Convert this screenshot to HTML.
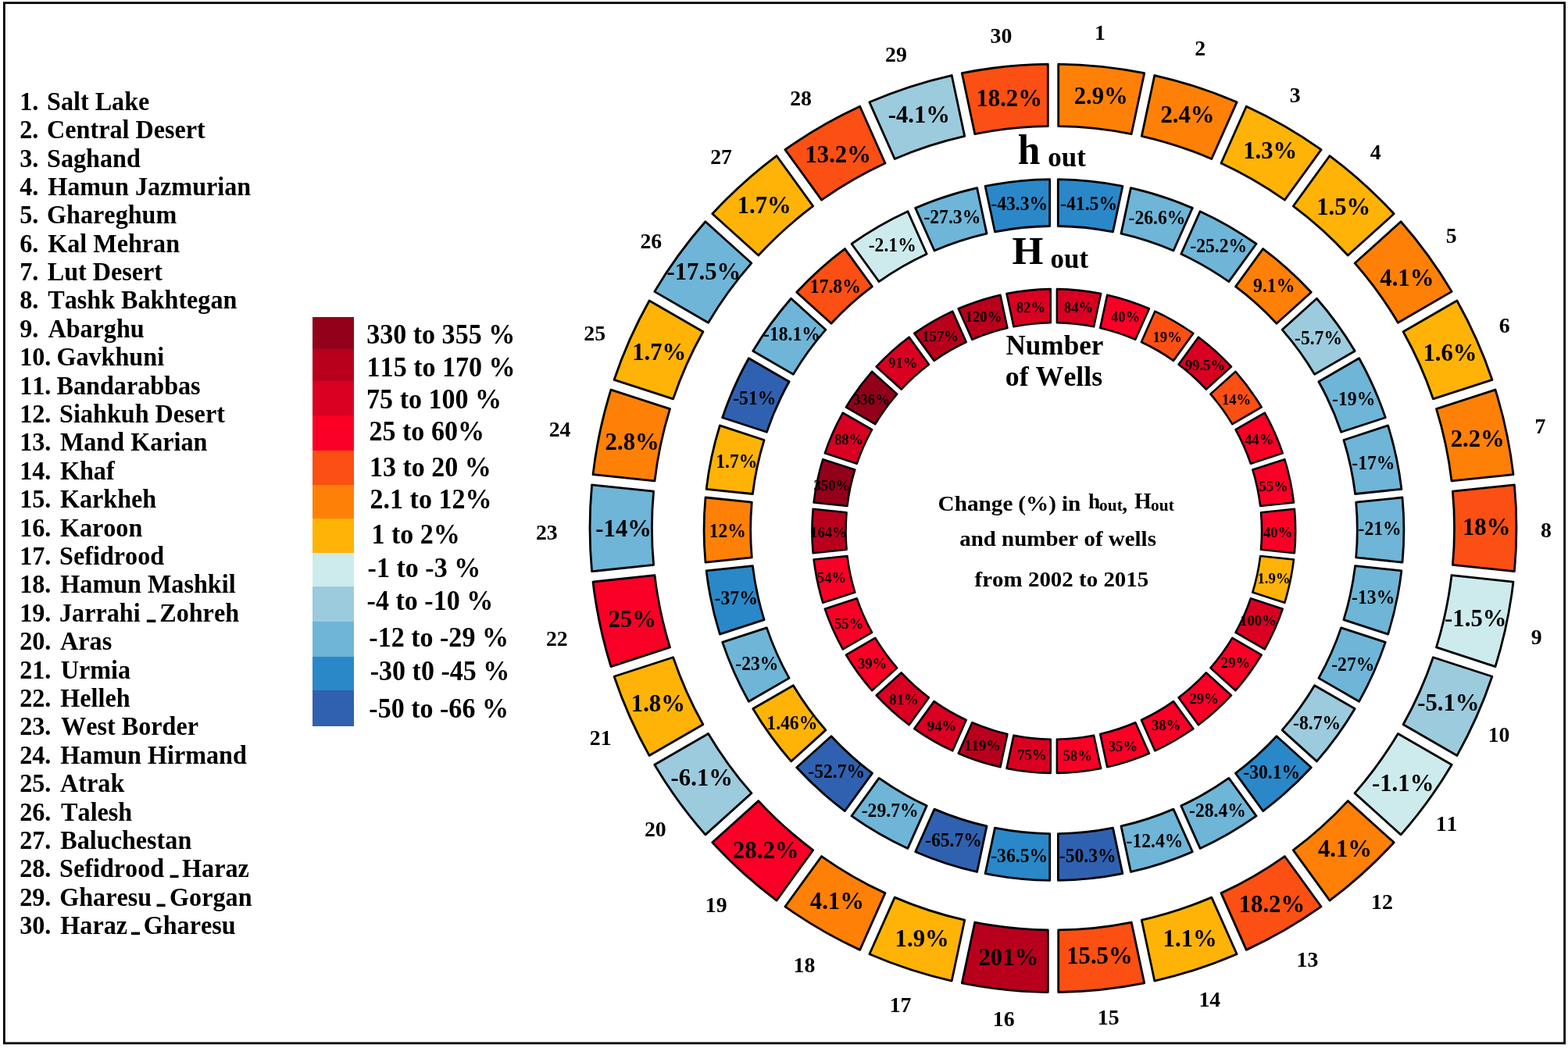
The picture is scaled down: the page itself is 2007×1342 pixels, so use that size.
<!DOCTYPE html>
<html lang="en"><head><meta charset="utf-8"><title>Change (%) in h out, H out and number of wells from 2002 to 2015</title>
<style>html,body{margin:0;padding:0;background:#fff}body{width:2007px;height:1342px;overflow:hidden}svg{display:block}text{font-family:'Liberation Serif','DejaVu Serif',serif;font-weight:bold;fill:#000;font-kerning:none;white-space:pre}</style></head><body>
<svg xmlns="http://www.w3.org/2000/svg" width="2007" height="1342" viewBox="0 0 2007 1342">
<rect width="2007" height="1342" fill="#fff"/>
<rect x="5.4" y="3.7" width="1997.2" height="1332.2" fill="none" stroke="#000" stroke-width="2.8"/>
<g font-size="33.8">
<text transform="translate(25.2 140.7) scale(0.952 1)">1.</text>
<text transform="translate(60.0 140.7) scale(0.952 1)">Salt Lake</text>
<text transform="translate(25.2 177.1) scale(0.952 1)">2.</text>
<text transform="translate(60.1 177.1) scale(0.952 1)">Central Desert</text>
<text transform="translate(25.2 213.5) scale(0.952 1)">3.</text>
<text transform="translate(60.0 213.5) scale(0.952 1)">Saghand</text>
<text transform="translate(25.2 249.9) scale(0.952 1)">4.</text>
<text transform="translate(61.2 249.9) scale(0.952 1)">Hamun Jazmurian</text>
<text transform="translate(25.2 286.3) scale(0.952 1)">5.</text>
<text transform="translate(60.1 286.3) scale(0.952 1)">Ghareghum</text>
<text transform="translate(25.2 322.6) scale(0.952 1)">6.</text>
<text transform="translate(61.2 322.6) scale(0.952 1)">Kal Mehran</text>
<text transform="translate(25.2 359.0) scale(0.952 1)">7.</text>
<text transform="translate(60.7 359.0) scale(0.952 1)">Lut Desert</text>
<text transform="translate(25.2 395.4) scale(0.952 1)">8.</text>
<text transform="translate(61.2 395.4) scale(0.952 1)">Tashk Bakhtegan</text>
<text transform="translate(25.2 431.8) scale(0.952 1)">9.</text>
<text transform="translate(61.4 431.8) scale(0.952 1)">Abarghu</text>
<text transform="translate(25.2 468.2) scale(0.952 1)">10.</text>
<text transform="translate(72.4 468.2) scale(0.952 1)">Gavkhuni</text>
<text transform="translate(25.2 504.6) scale(0.952 1)">11.</text>
<text transform="translate(72.5 504.6) scale(0.952 1)">Bandarabbas</text>
<text transform="translate(25.2 541.0) scale(0.952 1)">12.</text>
<text transform="translate(76.1 541.0) scale(0.952 1)">Siahkuh Desert</text>
<text transform="translate(25.2 577.4) scale(0.952 1)">13.</text>
<text transform="translate(76.9 577.4) scale(0.952 1)">Mand Karian</text>
<text transform="translate(25.2 613.8) scale(0.952 1)">14.</text>
<text transform="translate(76.9 613.8) scale(0.952 1)">Khaf</text>
<text transform="translate(25.2 650.2) scale(0.952 1)">15.</text>
<text transform="translate(76.9 650.2) scale(0.952 1)">Karkheh</text>
<text transform="translate(25.2 686.5) scale(0.952 1)">16.</text>
<text transform="translate(76.9 686.5) scale(0.952 1)">Karoon</text>
<text transform="translate(25.2 722.9) scale(0.952 1)">17.</text>
<text transform="translate(76.1 722.9) scale(0.952 1)">Sefidrood</text>
<text transform="translate(25.2 759.3) scale(0.952 1)">18.</text>
<text transform="translate(77.3 759.3) scale(0.952 1)">Hamun Mashkil</text>
<text transform="translate(25.2 795.7) scale(0.952 1)">19.</text>
<text transform="translate(76.0 795.7) scale(0.952 1)">Jarrahi</text>
<text transform="translate(188.1 789.6) scale(0.660 1.431)">_</text>
<text transform="translate(204.2 795.7) scale(0.952 1)">Zohreh</text>
<text transform="translate(25.2 832.1) scale(0.952 1)">20.</text>
<text transform="translate(77.1 832.1) scale(0.952 1)">Aras</text>
<text transform="translate(25.2 868.5) scale(0.952 1)">21.</text>
<text transform="translate(77.8 868.5) scale(0.952 1)">Urmia</text>
<text transform="translate(25.2 904.9) scale(0.952 1)">22.</text>
<text transform="translate(77.3 904.9) scale(0.952 1)">Helleh</text>
<text transform="translate(25.2 941.3) scale(0.952 1)">23.</text>
<text transform="translate(78.1 941.3) scale(0.952 1)">West Border</text>
<text transform="translate(25.2 977.7) scale(0.952 1)">24.</text>
<text transform="translate(77.3 977.7) scale(0.952 1)">Hamun Hirmand</text>
<text transform="translate(25.2 1014.1) scale(0.952 1)">25.</text>
<text transform="translate(77.1 1014.1) scale(0.952 1)">Atrak</text>
<text transform="translate(25.2 1050.5) scale(0.952 1)">26.</text>
<text transform="translate(78.1 1050.5) scale(0.952 1)">Talesh</text>
<text transform="translate(25.2 1086.8) scale(0.952 1)">27.</text>
<text transform="translate(77.3 1086.8) scale(0.952 1)">Baluchestan</text>
<text transform="translate(25.2 1123.2) scale(0.952 1)">28.</text>
<text transform="translate(76.1 1123.2) scale(0.952 1)">Sefidrood</text>
<text transform="translate(217.7 1117.1) scale(0.631 1.431)">_</text>
<text transform="translate(233.1 1123.2) scale(0.952 1)">Haraz</text>
<text transform="translate(25.2 1159.6) scale(0.952 1)">29.</text>
<text transform="translate(76.2 1159.6) scale(0.952 1)">Gharesu</text>
<text transform="translate(200.8 1153.5) scale(0.631 1.431)">_</text>
<text transform="translate(217.1 1159.6) scale(0.952 1)">Gorgan</text>
<text transform="translate(25.2 1196.0) scale(0.952 1)">30.</text>
<text transform="translate(77.3 1196.0) scale(0.952 1)">Haraz</text>
<text transform="translate(168.1 1189.9) scale(0.643 1.431)">_</text>
<text transform="translate(183.7 1196.0) scale(0.952 1)">Gharesu</text>
</g>
<g shape-rendering="crispEdges">
<rect x="399.8" y="405.6" width="53.2" height="42.2" fill="#92001a"/>
<rect x="399.8" y="447.4" width="53.2" height="40.6" fill="#b8001d"/>
<rect x="399.8" y="487.6" width="53.2" height="44.7" fill="#d90022"/>
<rect x="399.8" y="531.9" width="53.2" height="45.2" fill="#fa0026"/>
<rect x="399.8" y="576.7" width="53.2" height="44.2" fill="#fc4f13"/>
<rect x="399.8" y="620.5" width="53.2" height="44.0" fill="#ff8006"/>
<rect x="399.8" y="664.1" width="53.2" height="44.3" fill="#ffb306"/>
<rect x="399.8" y="708.0" width="53.2" height="43.8" fill="#cdebec"/>
<rect x="399.8" y="751.4" width="53.2" height="45.0" fill="#9ccbde"/>
<rect x="399.8" y="796.0" width="53.2" height="44.9" fill="#6eb5d7"/>
<rect x="399.8" y="840.5" width="53.2" height="43.6" fill="#2a88c8"/>
<rect x="399.8" y="883.7" width="53.2" height="46.5" fill="#3061b0"/>
</g>
<g font-size="35.1">
<text transform="translate(469.2 440.3) scale(0.970 1)">330 to 355 %</text>
<text transform="translate(469.6 481.6) scale(0.970 1)">115 to 170 %</text>
<text transform="translate(469.1 522.6) scale(0.970 1)">75 to 100 %</text>
<text transform="translate(472.5 564.2) scale(0.970 1)">25 to 60%</text>
<text transform="translate(472.9 610.1) scale(0.970 1)">13 to 20 %</text>
<text transform="translate(473.5 650.8) scale(0.970 1)">2.1 to 12%</text>
<text transform="translate(475.4 695.9) scale(0.970 1)">1 to 2%</text>
<text transform="translate(470.6 739.3) scale(0.970 1)">-1 to -3 %</text>
<text transform="translate(469.6 781.4) scale(0.970 1)">-4 to -10 %</text>
<text transform="translate(472.3 828.0) scale(0.970 1)">-12 to -29 %</text>
<text transform="translate(473.7 870.7) scale(0.970 1)">-30 t0 -45 %</text>
<text transform="translate(472.3 919.1) scale(0.970 1)">-50 to -66 %</text>
</g>
<g stroke="#000" stroke-width="2.8" stroke-linejoin="round" transform="translate(0 -1.353) scale(1 1.0020)">
<path d="M1354.7 83.3A593.0 593.0 0 0 1 1464.7 94.9L1448.2 172.6A513.6 513.6 0 0 0 1354.7 162.7Z" fill="#ff8006"/>
<path d="M1477.8 97.7A593.0 593.0 0 0 1 1583.1 131.9L1550.8 204.4A513.6 513.6 0 0 0 1461.3 175.4Z" fill="#ff8006"/>
<path d="M1595.3 137.3A593.0 593.0 0 0 1 1691.1 192.6L1644.4 256.9A513.6 513.6 0 0 0 1563.0 209.9Z" fill="#ffb306"/>
<path d="M1702.0 200.5A593.0 593.0 0 0 1 1784.2 274.6L1725.2 327.7A513.6 513.6 0 0 0 1655.3 264.8Z" fill="#ffb306"/>
<path d="M1793.1 284.5A593.0 593.0 0 0 1 1858.2 374.0L1789.4 413.7A513.6 513.6 0 0 0 1734.1 337.6Z" fill="#ff8006"/>
<path d="M1864.9 385.6A593.0 593.0 0 0 1 1909.9 486.7L1834.4 511.2A513.6 513.6 0 0 0 1796.1 425.3Z" fill="#ffb306"/>
<path d="M1914.0 499.4A593.0 593.0 0 0 1 1937.0 607.7L1858.0 616.0A513.6 513.6 0 0 0 1838.5 524.0Z" fill="#ff8006"/>
<path d="M1938.4 621.0A593.0 593.0 0 0 1 1938.4 731.6L1859.4 723.3A513.6 513.6 0 0 0 1859.4 629.3Z" fill="#fc4f13"/>
<path d="M1937.0 744.9A593.0 593.0 0 0 1 1914.0 853.2L1838.5 828.6A513.6 513.6 0 0 0 1858.0 736.6Z" fill="#cdebec"/>
<path d="M1909.9 865.9A593.0 593.0 0 0 1 1864.9 967.0L1796.1 927.3A513.6 513.6 0 0 0 1834.4 841.4Z" fill="#9ccbde"/>
<path d="M1858.2 978.6A593.0 593.0 0 0 1 1793.1 1068.1L1734.1 1015.0A513.6 513.6 0 0 0 1789.4 938.9Z" fill="#cdebec"/>
<path d="M1784.2 1078.0A593.0 593.0 0 0 1 1702.0 1152.1L1655.3 1087.8A513.6 513.6 0 0 0 1725.2 1024.9Z" fill="#ff8006"/>
<path d="M1691.1 1160.0A593.0 593.0 0 0 1 1595.3 1215.3L1563.0 1142.7A513.6 513.6 0 0 0 1644.4 1095.7Z" fill="#fc4f13"/>
<path d="M1583.1 1220.7A593.0 593.0 0 0 1 1477.8 1254.9L1461.3 1177.2A513.6 513.6 0 0 0 1550.8 1148.2Z" fill="#ffb306"/>
<path d="M1464.7 1257.7A593.0 593.0 0 0 1 1354.7 1269.3L1354.7 1189.9A513.6 513.6 0 0 0 1448.2 1180.0Z" fill="#fc4f13"/>
<path d="M1341.3 1269.3A593.0 593.0 0 0 1 1231.3 1257.7L1247.8 1180.0A513.6 513.6 0 0 0 1341.3 1189.9Z" fill="#b8001d"/>
<path d="M1218.2 1254.9A593.0 593.0 0 0 1 1112.9 1220.7L1145.2 1148.2A513.6 513.6 0 0 0 1234.7 1177.2Z" fill="#ffb306"/>
<path d="M1100.7 1215.3A593.0 593.0 0 0 1 1004.9 1160.0L1051.6 1095.7A513.6 513.6 0 0 0 1133.0 1142.7Z" fill="#ff8006"/>
<path d="M994.0 1152.1A593.0 593.0 0 0 1 911.8 1078.0L970.8 1024.9A513.6 513.6 0 0 0 1040.7 1087.8Z" fill="#fa0026"/>
<path d="M902.9 1068.1A593.0 593.0 0 0 1 837.8 978.6L906.6 938.9A513.6 513.6 0 0 0 961.9 1015.0Z" fill="#9ccbde"/>
<path d="M831.1 967.0A593.0 593.0 0 0 1 786.1 865.9L861.6 841.4A513.6 513.6 0 0 0 899.9 927.3Z" fill="#ffb306"/>
<path d="M782.0 853.2A593.0 593.0 0 0 1 759.0 744.9L838.0 736.6A513.6 513.6 0 0 0 857.5 828.6Z" fill="#fa0026"/>
<path d="M757.6 731.6A593.0 593.0 0 0 1 757.6 621.0L836.6 629.3A513.6 513.6 0 0 0 836.6 723.3Z" fill="#6eb5d7"/>
<path d="M759.0 607.7A593.0 593.0 0 0 1 782.0 499.4L857.5 524.0A513.6 513.6 0 0 0 838.0 616.0Z" fill="#ff8006"/>
<path d="M786.1 486.7A593.0 593.0 0 0 1 831.1 385.6L899.9 425.3A513.6 513.6 0 0 0 861.6 511.2Z" fill="#ffb306"/>
<path d="M837.8 374.0A593.0 593.0 0 0 1 902.9 284.5L961.9 337.6A513.6 513.6 0 0 0 906.6 413.7Z" fill="#6eb5d7"/>
<path d="M911.8 274.6A593.0 593.0 0 0 1 994.0 200.5L1040.7 264.8A513.6 513.6 0 0 0 970.8 327.7Z" fill="#ffb306"/>
<path d="M1004.9 192.6A593.0 593.0 0 0 1 1100.7 137.3L1133.0 209.9A513.6 513.6 0 0 0 1051.6 256.9Z" fill="#fc4f13"/>
<path d="M1112.9 131.9A593.0 593.0 0 0 1 1218.2 97.7L1234.7 175.4A513.6 513.6 0 0 0 1145.2 204.4Z" fill="#9ccbde"/>
<path d="M1231.3 94.9A593.0 593.0 0 0 1 1341.3 83.3L1341.3 162.7A513.6 513.6 0 0 0 1247.8 172.6Z" fill="#fc4f13"/>
</g>
<g font-size="32.2">
<text transform="translate(1374.7 132.6) scale(0.955 1)">2.9%</text>
<text transform="translate(1485.4 156.9) scale(0.955 1)">2.4%</text>
<text transform="translate(1591.2 203.3) scale(0.955 1)">1.3%</text>
<text transform="translate(1685.2 274.6) scale(0.955 1)">1.5%</text>
<text transform="translate(1766.3 365.8) scale(0.955 1)">4.1%</text>
<text transform="translate(1821.4 461.9) scale(0.955 1)">1.6%</text>
<text transform="translate(1856.7 572.3) scale(0.955 1)">2.2%</text>
<text transform="translate(1871.9 684.7) scale(0.955 1)">18%</text>
<text transform="translate(1849.1 801.8) scale(0.955 1)">-1.5%</text>
<text transform="translate(1814.2 909.9) scale(0.955 1)">-5.1%</text>
<text transform="translate(1756.0 1012.5) scale(0.955 1)">-1.1%</text>
<text transform="translate(1686.9 1097.2) scale(0.955 1)">4.1%</text>
<text transform="translate(1585.7 1167.6) scale(0.955 1)">18.2%</text>
<text transform="translate(1488.6 1212.3) scale(0.955 1)">1.1%</text>
<text transform="translate(1365.2 1234.1) scale(0.955 1)">15.5%</text>
<text transform="translate(1252.4 1235.6) scale(0.955 1)">201%</text>
<text transform="translate(1145.6 1211.8) scale(0.955 1)">1.9%</text>
<text transform="translate(1036.8 1164.1) scale(0.955 1)">4.1%</text>
<text transform="translate(938.0 1099.1) scale(0.955 1)">28.2%</text>
<text transform="translate(858.6 1006.2) scale(0.955 1)">-6.1%</text>
<text transform="translate(807.8 910.6) scale(0.955 1)">1.8%</text>
<text transform="translate(778.4 802.6) scale(0.955 1)">25%</text>
<text transform="translate(762.3 686.6) scale(0.955 1)">-14%</text>
<text transform="translate(774.6 575.6) scale(0.955 1)">2.8%</text>
<text transform="translate(809.2 460.5) scale(0.955 1)">1.7%</text>
<text transform="translate(853.5 358.1) scale(0.955 1)">-17.5%</text>
<text transform="translate(943.7 272.6) scale(0.955 1)">1.7%</text>
<text transform="translate(1030.4 207.5) scale(0.955 1)">13.2%</text>
<text transform="translate(1136.7 156.7) scale(0.955 1)">-4.1%</text>
<text transform="translate(1249.4 135.9) scale(0.955 1)">18.2%</text>
</g>
<g stroke="#000" stroke-width="2.8" stroke-linejoin="round" transform="translate(0 -1.357) scale(1 1.0020)">
<path d="M1354.3 230.6A447.9 447.9 0 0 1 1436.9 239.3L1424.5 297.7A388.3 388.3 0 0 0 1354.3 290.3Z" fill="#2a88c8"/>
<path d="M1447.4 241.5A447.9 447.9 0 0 1 1526.3 267.2L1502.0 321.7A388.3 388.3 0 0 0 1435.0 299.9Z" fill="#6eb5d7"/>
<path d="M1536.1 271.5A447.9 447.9 0 0 1 1608.0 313.0L1572.9 361.3A388.3 388.3 0 0 0 1511.8 326.0Z" fill="#6eb5d7"/>
<path d="M1616.6 319.3A447.9 447.9 0 0 1 1678.3 374.9L1634.0 414.8A388.3 388.3 0 0 0 1581.5 367.6Z" fill="#ff8006"/>
<path d="M1685.4 382.8A447.9 447.9 0 0 1 1734.2 450.0L1682.6 479.8A388.3 388.3 0 0 0 1641.1 422.7Z" fill="#9ccbde"/>
<path d="M1739.6 459.2A447.9 447.9 0 0 1 1773.3 535.0L1716.6 553.5A388.3 388.3 0 0 0 1687.9 489.1Z" fill="#6eb5d7"/>
<path d="M1776.6 545.2A447.9 447.9 0 0 1 1793.9 626.4L1734.6 632.6A388.3 388.3 0 0 0 1719.9 563.7Z" fill="#6eb5d7"/>
<path d="M1795.0 637.1A447.9 447.9 0 0 1 1795.0 720.0L1735.7 713.8A388.3 388.3 0 0 0 1735.7 643.3Z" fill="#6eb5d7"/>
<path d="M1793.9 730.7A447.9 447.9 0 0 1 1776.6 811.9L1719.9 793.4A388.3 388.3 0 0 0 1734.6 724.5Z" fill="#6eb5d7"/>
<path d="M1773.3 822.1A447.9 447.9 0 0 1 1739.6 897.9L1687.9 868.0A388.3 388.3 0 0 0 1716.6 803.6Z" fill="#6eb5d7"/>
<path d="M1734.2 907.1A447.9 447.9 0 0 1 1685.4 974.3L1641.1 934.4A388.3 388.3 0 0 0 1682.6 877.3Z" fill="#9ccbde"/>
<path d="M1678.3 982.2A447.9 447.9 0 0 1 1616.6 1037.8L1581.5 989.5A388.3 388.3 0 0 0 1634.0 942.3Z" fill="#2a88c8"/>
<path d="M1608.0 1044.1A447.9 447.9 0 0 1 1536.1 1085.6L1511.8 1031.1A388.3 388.3 0 0 0 1572.9 995.8Z" fill="#6eb5d7"/>
<path d="M1526.3 1089.9A447.9 447.9 0 0 1 1447.4 1115.6L1435.0 1057.2A388.3 388.3 0 0 0 1502.0 1035.4Z" fill="#6eb5d7"/>
<path d="M1436.9 1117.8A447.9 447.9 0 0 1 1354.4 1126.5L1354.4 1066.8A388.3 388.3 0 0 0 1424.5 1059.4Z" fill="#3061b0"/>
<path d="M1343.7 1126.5A447.9 447.9 0 0 1 1261.1 1117.8L1273.5 1059.4A388.3 388.3 0 0 0 1343.7 1066.8Z" fill="#2a88c8"/>
<path d="M1250.6 1115.6A447.9 447.9 0 0 1 1171.7 1089.9L1196.0 1035.4A388.3 388.3 0 0 0 1263.0 1057.2Z" fill="#3061b0"/>
<path d="M1161.9 1085.6A447.9 447.9 0 0 1 1090.0 1044.1L1125.1 995.8A388.3 388.3 0 0 0 1186.2 1031.1Z" fill="#6eb5d7"/>
<path d="M1081.4 1037.8A447.9 447.9 0 0 1 1019.7 982.2L1064.0 942.3A388.3 388.3 0 0 0 1116.5 989.5Z" fill="#3061b0"/>
<path d="M1012.6 974.3A447.9 447.9 0 0 1 963.8 907.1L1015.4 877.3A388.3 388.3 0 0 0 1056.9 934.4Z" fill="#ffb306"/>
<path d="M958.4 897.9A447.9 447.9 0 0 1 924.7 822.1L981.4 803.6A388.3 388.3 0 0 0 1010.1 868.0Z" fill="#6eb5d7"/>
<path d="M921.4 811.9A447.9 447.9 0 0 1 904.1 730.7L963.4 724.5A388.3 388.3 0 0 0 978.1 793.4Z" fill="#2a88c8"/>
<path d="M903.0 720.0A447.9 447.9 0 0 1 903.0 637.1L962.3 643.3A388.3 388.3 0 0 0 962.3 713.8Z" fill="#ff8006"/>
<path d="M904.1 626.4A447.9 447.9 0 0 1 921.4 545.2L978.1 563.7A388.3 388.3 0 0 0 963.4 632.6Z" fill="#ffb306"/>
<path d="M924.7 535.0A447.9 447.9 0 0 1 958.4 459.2L1010.1 489.1A388.3 388.3 0 0 0 981.4 553.5Z" fill="#3061b0"/>
<path d="M963.8 450.0A447.9 447.9 0 0 1 1012.6 382.8L1056.9 422.7A388.3 388.3 0 0 0 1015.4 479.8Z" fill="#6eb5d7"/>
<path d="M1019.7 374.9A447.9 447.9 0 0 1 1081.4 319.3L1116.5 367.6A388.3 388.3 0 0 0 1064.0 414.8Z" fill="#fc4f13"/>
<path d="M1090.0 313.0A447.9 447.9 0 0 1 1161.9 271.5L1186.2 326.0A388.3 388.3 0 0 0 1125.1 361.3Z" fill="#cdebec"/>
<path d="M1171.7 267.2A447.9 447.9 0 0 1 1250.6 241.5L1263.0 299.9A388.3 388.3 0 0 0 1196.0 321.7Z" fill="#6eb5d7"/>
<path d="M1261.1 239.3A447.9 447.9 0 0 1 1343.7 230.6L1343.6 290.3A388.3 388.3 0 0 0 1273.5 297.7Z" fill="#2a88c8"/>
</g>
<g font-size="25.9">
<text transform="translate(1357.1 268.9) scale(0.914 1)">-41.5%</text>
<text transform="translate(1444.5 286.9) scale(0.914 1)">-26.6%</text>
<text transform="translate(1523.3 323.0) scale(0.914 1)">-25.2%</text>
<text transform="translate(1604.1 373.8) scale(0.914 1)">9.1%</text>
<text transform="translate(1657.0 441.3) scale(0.914 1)">-5.7%</text>
<text transform="translate(1705.1 518.7) scale(0.914 1)">-19%</text>
<text transform="translate(1730.3 601.4) scale(0.914 1)">-17%</text>
<text transform="translate(1738.5 684.9) scale(0.914 1)">-21%</text>
<text transform="translate(1730.1 773.2) scale(0.914 1)">-13%</text>
<text transform="translate(1704.2 859.4) scale(0.914 1)">-27%</text>
<text transform="translate(1655.1 934.1) scale(0.914 1)">-8.7%</text>
<text transform="translate(1591.3 996.7) scale(0.914 1)">-30.1%</text>
<text transform="translate(1522.0 1046.1) scale(0.914 1)">-28.4%</text>
<text transform="translate(1441.5 1085.3) scale(0.914 1)">-12.4%</text>
<text transform="translate(1355.8 1103.5) scale(0.914 1)">-50.3%</text>
<text transform="translate(1268.2 1103.5) scale(0.914 1)">-36.5%</text>
<text transform="translate(1184.0 1084.1) scale(0.914 1)">-65.7%</text>
<text transform="translate(1102.7 1046.1) scale(0.914 1)">-29.7%</text>
<text transform="translate(1034.3 995.5) scale(0.914 1)">-52.7%</text>
<text transform="translate(981.3 934.1) scale(0.914 1)">1.46%</text>
<text transform="translate(941.3 857.7) scale(0.914 1)">-23%</text>
<text transform="translate(914.6 774.4) scale(0.914 1)">-37%</text>
<text transform="translate(907.7 687.8) scale(0.914 1)">12%</text>
<text transform="translate(916.2 598.5) scale(0.914 1)">1.7%</text>
<text transform="translate(938.2 517.7) scale(0.914 1)">-51%</text>
<text transform="translate(977.0 435.7) scale(0.914 1)">-18.1%</text>
<text transform="translate(1036.8 374.6) scale(0.914 1)">17.8%</text>
<text transform="translate(1111.7 322.3) scale(0.914 1)">-2.1%</text>
<text transform="translate(1182.4 285.6) scale(0.914 1)">-27.3%</text>
<text transform="translate(1268.3 268.9) scale(0.914 1)">-43.3%</text>
</g>
<g stroke="#000" stroke-width="2.6" stroke-linejoin="round" transform="translate(0 -1.020) scale(1 1.0015)">
<path d="M1352.9 370.6A309.4 309.4 0 0 1 1409.1 376.5L1400.1 418.7A266.3 266.3 0 0 0 1352.9 413.7Z" fill="#d90022"/>
<path d="M1417.2 378.2A309.4 309.4 0 0 1 1470.9 395.7L1453.3 435.1A266.3 266.3 0 0 0 1408.2 420.4Z" fill="#fa0026"/>
<path d="M1478.4 399.0A309.4 309.4 0 0 1 1527.3 427.3L1502.0 462.2A266.3 266.3 0 0 0 1460.9 438.4Z" fill="#fc4f13"/>
<path d="M1534.0 432.1A309.4 309.4 0 0 1 1576.0 469.9L1543.9 498.8A266.3 266.3 0 0 0 1508.6 467.0Z" fill="#d90022"/>
<path d="M1581.5 476.1A309.4 309.4 0 0 1 1614.7 521.7L1577.3 543.3A266.3 266.3 0 0 0 1549.4 504.9Z" fill="#fc4f13"/>
<path d="M1618.8 528.9A309.4 309.4 0 0 1 1641.8 580.5L1600.8 593.8A266.3 266.3 0 0 0 1581.5 550.4Z" fill="#fa0026"/>
<path d="M1644.3 588.3A309.4 309.4 0 0 1 1656.0 643.6L1613.2 648.1A266.3 266.3 0 0 0 1603.3 601.6Z" fill="#fa0026"/>
<path d="M1656.9 651.8A309.4 309.4 0 0 1 1656.9 708.2L1614.0 703.7A266.3 266.3 0 0 0 1614.0 656.3Z" fill="#fa0026"/>
<path d="M1656.0 716.4A309.4 309.4 0 0 1 1644.3 771.7L1603.3 758.4A266.3 266.3 0 0 0 1613.2 711.9Z" fill="#ffb306"/>
<path d="M1641.8 779.5A309.4 309.4 0 0 1 1618.8 831.1L1581.5 809.6A266.3 266.3 0 0 0 1600.8 766.2Z" fill="#d90022"/>
<path d="M1614.7 838.3A309.4 309.4 0 0 1 1581.5 883.9L1549.4 855.1A266.3 266.3 0 0 0 1577.3 816.7Z" fill="#fa0026"/>
<path d="M1576.0 890.1A309.4 309.4 0 0 1 1534.0 927.9L1508.6 893.0A266.3 266.3 0 0 0 1543.9 861.2Z" fill="#fa0026"/>
<path d="M1527.3 932.7A309.4 309.4 0 0 1 1478.4 961.0L1460.9 921.6A266.3 266.3 0 0 0 1502.0 897.8Z" fill="#fa0026"/>
<path d="M1470.9 964.3A309.4 309.4 0 0 1 1417.2 981.8L1408.2 939.6A266.3 266.3 0 0 0 1453.3 924.9Z" fill="#fa0026"/>
<path d="M1409.1 983.5A309.4 309.4 0 0 1 1352.9 989.4L1352.9 946.3A266.3 266.3 0 0 0 1400.1 941.3Z" fill="#fa0026"/>
<path d="M1344.7 989.4A309.4 309.4 0 0 1 1288.5 983.5L1297.5 941.3A266.3 266.3 0 0 0 1344.7 946.3Z" fill="#d90022"/>
<path d="M1280.4 981.8A309.4 309.4 0 0 1 1226.7 964.3L1244.3 924.9A266.3 266.3 0 0 0 1289.4 939.6Z" fill="#b8001d"/>
<path d="M1219.2 961.0A309.4 309.4 0 0 1 1170.3 932.7L1195.6 897.8A266.3 266.3 0 0 0 1236.7 921.6Z" fill="#d90022"/>
<path d="M1163.6 927.9A309.4 309.4 0 0 1 1121.6 890.1L1153.7 861.2A266.3 266.3 0 0 0 1189.0 893.0Z" fill="#d90022"/>
<path d="M1116.1 883.9A309.4 309.4 0 0 1 1082.9 838.3L1120.3 816.7A266.3 266.3 0 0 0 1148.2 855.1Z" fill="#fa0026"/>
<path d="M1078.8 831.1A309.4 309.4 0 0 1 1055.8 779.5L1096.8 766.2A266.3 266.3 0 0 0 1116.1 809.6Z" fill="#fa0026"/>
<path d="M1053.3 771.7A309.4 309.4 0 0 1 1041.6 716.4L1084.4 711.9A266.3 266.3 0 0 0 1094.3 758.4Z" fill="#fa0026"/>
<path d="M1040.7 708.2A309.4 309.4 0 0 1 1040.7 651.8L1083.6 656.3A266.3 266.3 0 0 0 1083.6 703.7Z" fill="#b8001d"/>
<path d="M1041.6 643.6A309.4 309.4 0 0 1 1053.3 588.3L1094.3 601.6A266.3 266.3 0 0 0 1084.4 648.1Z" fill="#92001a"/>
<path d="M1055.8 580.5A309.4 309.4 0 0 1 1078.8 528.9L1116.1 550.4A266.3 266.3 0 0 0 1096.8 593.8Z" fill="#d90022"/>
<path d="M1082.9 521.7A309.4 309.4 0 0 1 1116.1 476.1L1148.2 504.9A266.3 266.3 0 0 0 1120.3 543.3Z" fill="#92001a"/>
<path d="M1121.6 469.9A309.4 309.4 0 0 1 1163.6 432.1L1189.0 467.0A266.3 266.3 0 0 0 1153.7 498.8Z" fill="#d90022"/>
<path d="M1170.3 427.3A309.4 309.4 0 0 1 1219.2 399.0L1236.7 438.4A266.3 266.3 0 0 0 1195.6 462.2Z" fill="#b8001d"/>
<path d="M1226.7 395.7A309.4 309.4 0 0 1 1280.4 378.2L1289.4 420.4A266.3 266.3 0 0 0 1244.3 435.1Z" fill="#b8001d"/>
<path d="M1288.5 376.5A309.4 309.4 0 0 1 1344.7 370.6L1344.7 413.7A266.3 266.3 0 0 0 1297.5 418.7Z" fill="#d90022"/>
</g>
<g font-size="18.9" style="fill:#22000a">
<text transform="translate(1361.8 400.0) scale(0.990 1)">84%</text>
<text transform="translate(1421.8 412.3) scale(0.990 1)">40%</text>
<text transform="translate(1475.5 438.2) scale(0.990 1)">19%</text>
<text transform="translate(1516.7 474.4) scale(0.990 1)">99.5%</text>
<text transform="translate(1563.9 517.7) scale(0.990 1)">14%</text>
<text transform="translate(1593.0 568.7) scale(0.990 1)">44%</text>
<text transform="translate(1611.4 629.1) scale(0.990 1)">55%</text>
<text transform="translate(1617.0 687.8) scale(0.990 1)">40%</text>
<text transform="translate(1609.5 746.8) scale(0.990 1)">1.9%</text>
<text transform="translate(1587.1 800.6) scale(0.990 1)">100%</text>
<text transform="translate(1562.8 855.3) scale(0.990 1)">29%</text>
<text transform="translate(1522.5 900.6) scale(0.990 1)">29%</text>
<text transform="translate(1474.0 934.7) scale(0.990 1)">38%</text>
<text transform="translate(1418.7 961.7) scale(0.990 1)">35%</text>
<text transform="translate(1360.5 974.3) scale(0.990 1)">58%</text>
<text transform="translate(1302.2 973.1) scale(0.990 1)">75%</text>
<text transform="translate(1234.2 960.5) scale(0.990 1)">119%</text>
<text transform="translate(1186.8 935.5) scale(0.990 1)">94%</text>
<text transform="translate(1138.3 902.2) scale(0.990 1)">81%</text>
<text transform="translate(1097.9 856.3) scale(0.990 1)">39%</text>
<text transform="translate(1068.0 805.1) scale(0.990 1)">55%</text>
<text transform="translate(1045.8 746.0) scale(0.990 1)">54%</text>
<text transform="translate(1037.1 687.8) scale(0.990 1)">164%</text>
<text transform="translate(1041.5 628.3) scale(0.990 1)">350%</text>
<text transform="translate(1067.9 568.7) scale(0.990 1)">88%</text>
<text transform="translate(1092.1 517.7) scale(0.990 1)">336%</text>
<text transform="translate(1137.1 470.5) scale(0.990 1)">91%</text>
<text transform="translate(1180.2 437.0) scale(0.990 1)">157%</text>
<text transform="translate(1235.6 412.3) scale(0.990 1)">120%</text>
<text transform="translate(1300.7 400.0) scale(0.990 1)">82%</text>
</g>
<g font-size="27.8">
<text x="1401.1" y="50.8">1</text>
<text x="1529.3" y="71.1">2</text>
<text x="1650.8" y="131.0">3</text>
<text x="1753.8" y="203.8">4</text>
<text x="1850.8" y="310.6">5</text>
<text x="1918.7" y="426.0">6</text>
<text x="1964.4" y="555.3">7</text>
<text x="1972.1" y="687.8">8</text>
<text x="1959.7" y="825.4">9</text>
<text x="1904.7" y="950.4">10</text>
<text x="1837.7" y="1064.4">11</text>
<text x="1755.1" y="1164.1">12</text>
<text x="1659.6" y="1237.7">13</text>
<text x="1534.4" y="1289.2">14</text>
<text x="1404.8" y="1311.5">15</text>
<text x="1270.8" y="1313.9">16</text>
<text x="1138.7" y="1296.0">17</text>
<text x="1015.6" y="1245.0">18</text>
<text x="902.8" y="1168.0">19</text>
<text x="824.9" y="1071.2">20</text>
<text x="754.8" y="953.5">21</text>
<text x="698.9" y="826.8">22</text>
<text x="685.9" y="691.4">23</text>
<text x="702.7" y="559.0">24</text>
<text x="747.3" y="435.7">25</text>
<text x="819.4" y="318.0">26</text>
<text x="909.2" y="209.5">27</text>
<text x="1011.2" y="134.7">28</text>
<text x="1133.0" y="79.3">29</text>
<text x="1267.6" y="54.5">30</text>
</g>
<text transform="translate(1302.8 209.5) scale(0.940 1)" font-size="54.8">h</text>
<text x="1341.2" y="212.5" font-size="35">out</text>
<text transform="translate(1295.4 338.2) scale(1.010 1)" font-size="50.8">H</text>
<text transform="translate(1344.5 342.6) scale(0.985 1)" font-size="35.5">out</text>
<text transform="translate(1287.4 453.9) scale(0.977 1)" font-size="36">Number</text>
<text transform="translate(1286.7 494.4) scale(0.997 1)" font-size="36">of Wells</text>
<text transform="translate(1200.6 654.2) scale(1.075 1)" font-size="27.2">Change</text>
<text transform="translate(1303.2 654.2) scale(1.075 1)" font-size="27.2">(%)</text>
<text transform="translate(1359.0 654.2) scale(1.075 1)" font-size="27.2">in</text>
<text transform="translate(1393.1 651.2) scale(0.980 1)" font-size="27.8">h</text>
<text x="1407.1" y="653.7" font-size="21.4">out</text>
<text x="1436.2" y="653.7" font-size="27.2">,</text>
<text transform="translate(1451.9 651.2) scale(0.960 1)" font-size="29">H</text>
<text x="1473.1" y="653.7" font-size="21.4">out</text>
<text transform="translate(1228.2 699.4) scale(1.065 1)" font-size="27.2">and number of wells</text>
<text transform="translate(1247.6 750.6) scale(1.065 1)" font-size="27.2">from 2002 to 2015</text>
</svg></body></html>
